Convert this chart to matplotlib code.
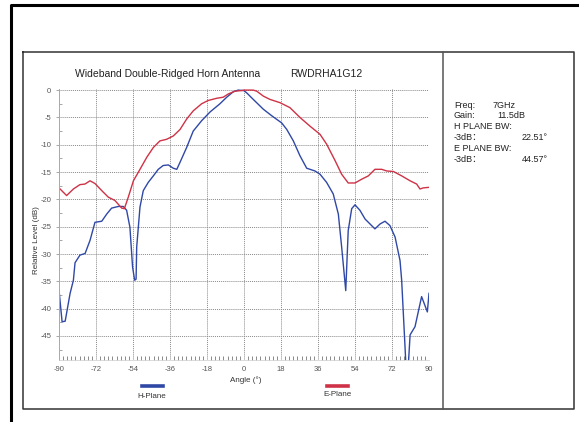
import numpy as np
import matplotlib
matplotlib.use("Agg")
import matplotlib.pyplot as plt
from matplotlib.lines import Line2D

plt.rcParams['font.family'] = ['Liberation Sans', 'Noto Sans CJK SC', 'DejaVu Sans']

# H-Plane (blue) pattern
h_angle = [-90, -88.5, -87, -84.6, -83, -82.2, -79.8, -77.3, -74.9, -72.5, -69.2, -66.8,
           -64.4, -61.2, -58.7, -57.1, -55.5, -54.2, -53.2, -52.5, -52.2, -50.6, -49.0,
           -46.6, -44.1, -41.7, -39.3, -36.8, -34.4, -32.7, -31.1, -27.9, -24.7, -20.6,
           -16.5, -11.7, -8.4, -5.2, -2.8, 0, 1.3, 4.5, 9.4, 13.5, 18.3, 20.8, 24.0, 27.2,
           30.5, 34.5, 37.0, 40.2, 43.4, 45.9, 47.5, 49.5, 50.7, 52.4, 54.0, 56.4, 58.9,
           61.3, 63.7, 66.2, 68.6, 71.0, 73.5, 75.9, 76.7, 78.0, 79.0, 80.0, 80.8, 83.2,
           86.4, 89.2, 90]
h_level = [-36.6, -42.4, -42.3, -37.2, -34.8, -31.6, -30.2, -29.9, -27.5, -24.2, -24.0, -22.7,
           -21.6, -21.3, -21.3, -22.0, -25.1, -32.4, -34.8, -34.6, -28.7, -21.4, -18.4,
           -16.9, -15.7, -14.5, -13.8, -13.7, -14.3, -14.5, -13.2, -10.5, -7.5, -5.6,
           -4.0, -2.5, -1.3, -0.3, 0.0, -0.1, -0.5, -1.7, -3.5, -4.7, -6.0, -7.2, -9.3, -12.0,
           -14.3, -14.8, -15.4, -16.9, -19.0, -22.7, -28.7, -36.7, -25.7, -21.7, -21.0, -22.0, -23.6,
           -24.5, -25.4, -24.5, -24.0, -24.8, -26.9, -31.2, -34.8, -44.5, -52.0, -50.0, -44.8, -43.3,
           -37.8, -40.6, -37.2]

# E-Plane (red) pattern
e_angle = [-90, -86.3, -83.0, -79.8, -77.4, -74.9, -72.5, -69.2, -66.0, -62.8, -59.5, -58.2,
           -56.3, -53.8, -50.6, -47.3, -44.1, -40.9, -37.6, -34.4, -31.1, -27.9, -24.7, -20.6,
           -17.4, -13.3, -10.1, -7.6, -4.4, -1.5, 0, 2.5, 4.5, 6.2, 9.4, 12.6, 17.5, 22.3, 27.2,
           32.1, 37.0, 40.2, 44.3, 47.5, 50.7, 54.0, 57.3, 60.5, 63.7, 67.0, 69.4, 72.7, 76.7,
           80.8, 84.0, 85.6, 87.2, 90]
e_level = [-17.9, -19.3, -18.1, -17.3, -17.2, -16.6, -17.1, -18.4, -19.6, -20.2, -21.6, -21.7,
           -19.6, -16.6, -14.5, -12.3, -10.5, -9.3, -9.0, -8.4, -7.2, -5.3, -3.8, -2.5,
           -1.9, -1.5, -1.3, -0.7, -0.2, -0.1, 0.0, 0.0, 0.0, -0.2, -1.1, -1.7, -2.3, -3.2, -5.0,
           -6.6, -8.1, -9.9, -12.9, -15.4, -17.0, -17.0, -16.3, -15.7, -14.5, -14.5, -14.8, -14.9, -15.7,
           -16.6, -17.2, -18.1, -17.9, -17.8]

x_ticks = [-90, -72, -54, -36, -18, 0, 18, 36, 54, 72, 90]
y_ticks = [0, -5, -10, -15, -20, -25, -30, -35, -40, -45]

info_lines = [("Freq:", "7GHz"), ("Gain:", "11.5dB"), ("H PLANE BW:", ""),
              ("-3dB\uff1a", "22.51\u00b0"), ("E PLANE BW:", ""), ("-3dB\uff1a", "44.57\u00b0")]

W, H = 579, 422
BLUE = '#2f48a6'
RED = '#cf3246'


def fx(px):
    return px / W


def fy(py):
    return 1 - py / H


fig = plt.figure(figsize=(W / 100, H / 100), dpi=100)

# frames
fig.add_artist(Line2D([fx(11), fx(11), fx(590)], [fy(430), fy(5), fy(5)], color='black', lw=2.2))
fig.add_artist(Line2D([fx(23), fx(574), fx(574), fx(23), fx(23)],
                      [fy(52), fy(52), fy(409), fy(409), fy(52)], color='#333333', lw=1.1))
fig.add_artist(Line2D([fx(443), fx(443)], [fy(52), fy(409)], color='#555555', lw=1.1))

# plot area
ax = fig.add_axes([fx(59), fy(360), fx(429) - fx(59), fy(89) - fy(360)])
ax.plot(h_angle, h_level, color=BLUE, lw=1.0)
ax.plot(e_angle, e_level, color=RED, lw=1.0)
ax.set_xlim(-90, 90)
ax.set_ylim(-49.4, 0.2)
ax.set_xticks(x_ticks)
ax.set_yticks(y_ticks)
ax.set_xticks(np.arange(-90, 91, 2), minor=True)
ax.set_yticks(np.arange(-47.5, 0, 5), minor=True)
ax.grid(True, which='major', color='#8a8a8a', ls=(0, (1, 1)), lw=0.7)
for s in ['top', 'right']:
    ax.spines[s].set_visible(False)
ax.spines['left'].set_color('#aaaaaa')
ax.spines['bottom'].set_color('#cccccc')
ax.spines['left'].set_linewidth(0.7)
ax.spines['bottom'].set_linewidth(0.5)
ax.tick_params(axis='both', which='major', labelsize=5.5, labelcolor='#555555',
               color='#999999', length=2, width=0.6)
ax.tick_params(axis='x', which='major', length=0, pad=4)
ax.tick_params(axis='x', which='minor', direction='in', length=3, color='#777777', width=0.6)
ax.tick_params(axis='y', which='minor', direction='in', length=2, color='#999999', width=0.6)
ax.set_xticklabels([str(t) for t in x_ticks])
ax.set_yticklabels([str(t) for t in y_ticks])

# titles and labels
fig.text(fx(75), fy(74), "Wideband Double-Ridged Horn Antenna", fontsize=7.5,
         color='#222222', va='center', ha='left')
fig.text(fx(290), fy(74), "RWDRHA1G12", fontsize=7.5, color='#222222', va='center', ha='left')
fig.text(fx(246), fy(380), "Angle (\u00b0)", fontsize=5.8, color='#333333', ha='center', va='center')
fig.text(fx(37), fy(240), "Relative Level (dB)", fontsize=5.8, color='#333333',
         ha='center', va='center', rotation=90)

# legend
fig.add_artist(Line2D([fx(142), fx(163)], [fy(386), fy(386)], color=BLUE, lw=2.6))
fig.text(fx(152), fy(397), "H-Plane", fontsize=5.8, color='#333333', ha='center', va='center')
fig.add_artist(Line2D([fx(327), fx(348)], [fy(386), fy(386)], color=RED, lw=2.6))
fig.text(fx(338), fy(395), "E-Plane", fontsize=5.8, color='#333333', ha='center', va='center')

# info panel
for i, (lab, val) in enumerate(info_lines):
    y = fy(105 + i * 10.8)
    fig.text(fx(454), y, lab, fontsize=6.5, color='#222222', va='center', ha='left')
    if val:
        xv = 493 if i == 0 else (497 if i == 1 else 522)
        fig.text(fx(xv), y, val, fontsize=6.5, color='#222222', va='center', ha='left')

fig.savefig("out.png", dpi=100)
